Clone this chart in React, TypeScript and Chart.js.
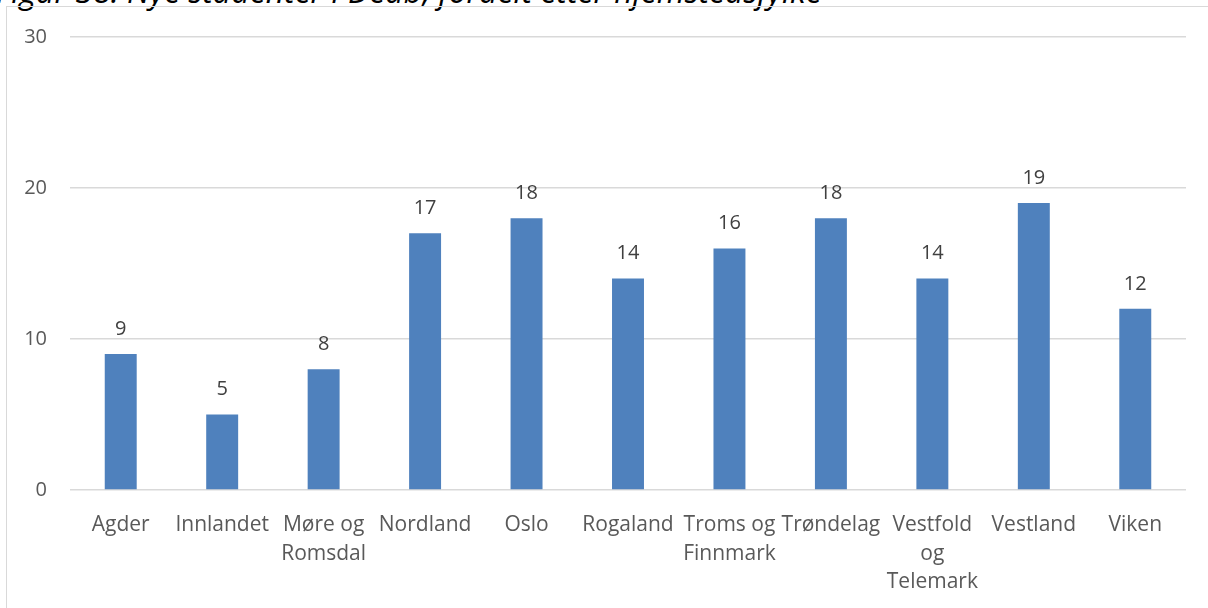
import React, { useEffect, useRef } from "react";
import { Chart, registerables } from "chart.js";

Chart.register(...registerables);

const titleText = "Figur 38: Nye studenter i Deub, fordelt etter hjemstedsfylke";
const categories: (string | string[])[] = [
  "Agder",
  "Innlandet",
  ["Møre og", "Romsdal"],
  "Nordland",
  "Oslo",
  "Rogaland",
  ["Troms og", "Finnmark"],
  "Trøndelag",
  ["Vestfold", "og", "Telemark"],
  "Vestland",
  "Viken",
];
const values: number[] = [9, 5, 8, 17, 18, 14, 16, 18, 14, 19, 12];
const yTicks: number[] = [0, 10, 20, 30];

const FONT = "'Open Sans', 'Noto Sans', sans-serif";

const dataLabelPlugin = {
  id: "dataLabels",
  afterDatasetsDraw(chart: any) {
    const ctx = chart.ctx;
    const meta = chart.getDatasetMeta(0);
    ctx.save();
    ctx.font = `20px ${FONT}`;
    ctx.fillStyle = "#404040";
    ctx.textAlign = "center";
    ctx.textBaseline = "middle";
    meta.data.forEach((bar: any, i: number) => {
      ctx.fillText(String(values[i]), bar.x, bar.y - 25);
    });
    ctx.restore();
  },
};

export default function App() {
  const canvasRef = useRef<HTMLCanvasElement | null>(null);

  useEffect(() => {
    if (!canvasRef.current) return;
    const chart = new Chart(canvasRef.current, {
      type: "bar",
      data: {
        labels: categories as any,
        datasets: [
          {
            data: values,
            backgroundColor: "#4F81BD",
            categoryPercentage: 1,
            barPercentage: 0.315,
          },
        ],
      },
      options: {
        animation: false,
        responsive: false,
        maintainAspectRatio: false,
        layout: { padding: { left: 0, right: 22, top: 37, bottom: 0 } },
        plugins: {
          legend: { display: false },
          tooltip: { enabled: false },
          title: { display: false },
        },
        scales: {
          x: {
            grid: { display: false },
            border: { display: false },
            ticks: {
              color: "#595959",
              font: { family: FONT, size: 21, lineHeight: 1.35 },
              padding: 13,
              maxRotation: 0,
              autoSkip: false,
            },
            afterFit: (scale: any) => {
              scale.height = 118;
            },
          },
          y: {
            min: 0,
            max: 30,
            afterBuildTicks: (scale: any) => {
              scale.ticks = yTicks.map((v) => ({ value: v }));
            },
            grid: { color: "#d9d9d9", lineWidth: 1.5, drawTicks: false },
            border: { display: false },
            ticks: {
              color: "#595959",
              font: { family: FONT, size: 20 },
              padding: 23,
            },
            afterFit: (scale: any) => {
              scale.width = 70;
            },
          },
        },
      },
      plugins: [dataLabelPlugin],
    });
    return () => chart.destroy();
  }, []);

  return (
    <div
      style={{
        position: "absolute",
        left: 0,
        top: 0,
        width: 1208,
        height: 608,
        overflow: "hidden",
        background: "#fff",
      }}
    >
      <div
        style={{
          position: "absolute",
          left: -4,
          top: -30,
          fontFamily: FONT,
          fontStyle: "italic",
          fontSize: 32,
          lineHeight: "42px",
          color: "#000",
          whiteSpace: "nowrap",
        }}
      >
        {titleText}
      </div>
      <div
        style={{
          position: "absolute",
          left: 6,
          top: 6,
          width: 1220,
          height: 620,
          border: "1.5px solid #d9d9d9",
          boxSizing: "border-box",
          background: "transparent",
        }}
      />
      <canvas
        ref={canvasRef}
        width={1208}
        height={608}
        style={{ position: "absolute", left: 0, top: 0, width: 1208, height: 608 }}
      />
    </div>
  );
}
